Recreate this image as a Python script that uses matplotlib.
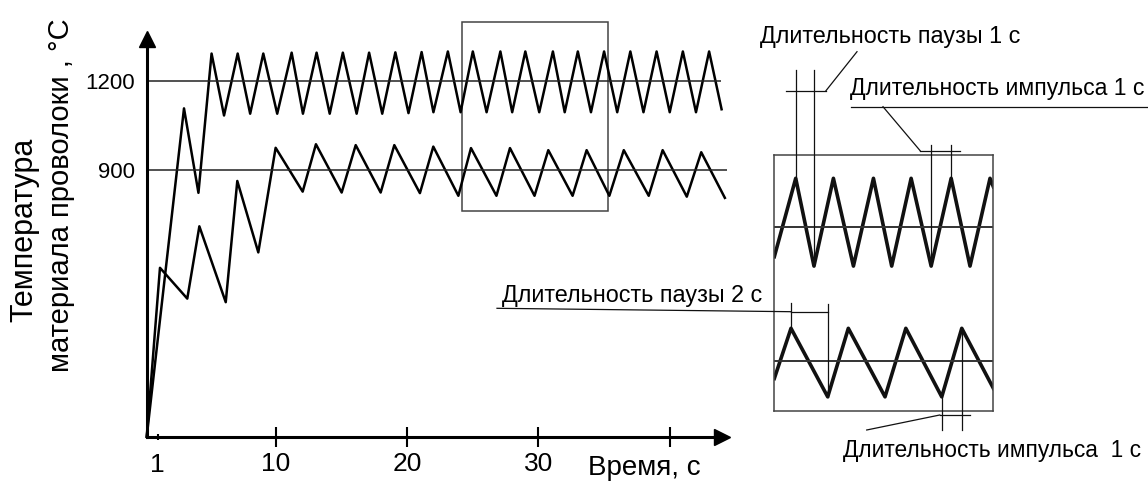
import matplotlib
matplotlib.use("Agg")
import matplotlib.pyplot as plt
from matplotlib.patches import Rectangle

plt.rcParams['font.family'] = ['Liberation Sans', 'DejaVu Sans']

# main chart: wire temperature vs time
upper_t = [0.16, 3.0, 4.1, 5.1, 6.05, 7.09, 8.04, 9.04, 10.1, 11.2, 12.06, 13.1, 14.1, 15.1,
           16.15, 17.1, 18.1, 19.1, 20.1, 21.1, 22.0, 23.1, 24.07, 25.0, 26.05, 27.1, 28.0,
           29.0, 30.06, 31.1, 32.0, 33.0, 34.0, 35.0, 36.0, 37.0, 38.0, 39.0, 40.0, 41.0,
           42.0, 43.0, 43.95]
upper_T = [0, 1108, 823, 1293, 1084, 1293, 1090, 1293, 1090, 1296, 1090, 1296, 1090, 1296,
           1090, 1296, 1090, 1297, 1092, 1298, 1095, 1300, 1095, 1300, 1095, 1300, 1095,
           1300, 1095, 1300, 1095, 1300, 1095, 1300, 1095, 1300, 1095, 1300, 1095, 1300,
           1095, 1300, 1105]

lower_t = [0.16, 1.17, 3.25, 4.17, 6.18, 7.06, 8.66, 9.98, 12.04, 13.05, 15.01, 16.08, 17.98,
           19.02, 20.97, 21.99, 23.9, 24.86, 26.8, 27.83, 29.7, 30.75, 32.6, 33.67, 35.4,
           36.5, 38.4, 39.46, 41.3, 42.4, 44.2]
lower_T = [0, 570, 466, 710, 454, 863, 622, 975, 827, 987, 824, 984, 824, 984, 822, 979,
           813, 974, 813, 974, 813, 967, 813, 967, 813, 967, 813, 967, 810, 960, 806]

ref_levels = [1200, 900]
ref_ends = [43.9, 44.4]
xtick_major = [10, 20, 30, 40]
xtick_major_labels = ['10', '20', '30', '']
xtick_minor = [1]

# zoomed fragment (box in the main chart)
box_t = [24.14, 35.3]
box_T = [762, 1398]
inset_up_t = [24.14, 25.23, 26.16, 27.15, 28.17, 29.19, 30.12, 31.11, 32.13, 33.15, 34.11, 35.13, 35.3]
inset_up_T = [1133, 1308, 1112, 1308, 1112, 1308, 1112, 1308, 1112, 1308, 1112, 1308, 1289]
inset_lo_t = [24.14, 24.99, 26.86, 27.91, 29.78, 30.84, 32.67, 33.69, 35.3]
inset_lo_T = [861, 973, 820, 973, 820, 973, 820, 973, 839]

W, H = 1148, 486
fig = plt.figure(figsize=(W / 100, H / 100), dpi=100)
ax = fig.add_axes([0.1278, 0.1014, 0.5011, 0.8183])

ax.plot(upper_t, upper_T, color='black', lw=1.8, clip_on=False)
ax.plot(lower_t, lower_T, color='black', lw=1.8, clip_on=False)
for lev, end in zip(ref_levels, ref_ends):
    ax.hlines(lev, 0.16, end, color='#222222', lw=1.1, clip_on=False)
ax.add_patch(Rectangle((box_t[0], box_T[0]), box_t[1] - box_t[0], box_T[1] - box_T[0],
                       fill=False, ec='#444444', lw=1.1, clip_on=False))

ax.set_xlim(0.16, 43.98)
ax.set_ylim(0, 1342)
for s in ['top', 'right']:
    ax.spines[s].set_visible(False)
for s in ['left', 'bottom']:
    ax.spines[s].set_linewidth(2.2)
ax.plot([0], [1], marker='^', ms=11, color='black', transform=ax.transAxes, clip_on=False)
ax.plot([1], [0], marker='>', ms=11, color='black', transform=ax.transAxes, clip_on=False)

ax.set_xticks(xtick_major, labels=xtick_major_labels)
ax.set_xticks(xtick_minor, labels=[str(v) for v in xtick_minor], minor=True)
ax.tick_params(axis='x', which='major', direction='inout', length=14, width=1.5,
               pad=4, labelsize=19)
ax.tick_params(axis='x', which='minor', direction='inout', length=5, width=1.5,
               pad=9, labelsize=19)
ax.set_yticks(ref_levels, labels=[str(v) for v in ref_levels])
ax.tick_params(axis='y', length=0, pad=8.5, labelsize=16)

# inset
ins = fig.add_axes([0.6745, 0.1549, 0.1908, 0.5261])
ins.plot(inset_up_t, inset_up_T, color='#111111', lw=2.6)
ins.plot(inset_lo_t, inset_lo_T, color='#111111', lw=2.6)
for lev in ref_levels:
    ins.axhline(lev, color='#333333', lw=1.4)
ins.set_xlim(box_t)
ins.set_ylim(789, 1360)
ins.set_xticks([])
ins.set_yticks([])
for s in ins.spines.values():
    s.set_linewidth(1.1)
    s.set_color('#444444')

# overlay in pixel units for labels and dimension lines
ann = fig.add_axes([0, 0, 1, 1], zorder=5)
ann.set_xlim(0, W)
ann.set_ylim(H, 0)
ann.set_axis_off()
ann.patch.set_alpha(0)


def to_px(a, x, y):
    return ann.transData.inverted().transform(a.transData.transform((x, y)))


thin = dict(color='#111111', lw=0.9)


def vline(x, y, y_end):
    p = to_px(ins, x, y)
    ann.plot([p[0], p[0]], [p[1], y_end], **thin)
    return p[0]


# pause 1 s
x1 = vline(inset_up_t[1], inset_up_T[1], 70)
x2 = vline(inset_up_t[2], inset_up_T[2], 70)
ann.plot([x1 - 10, x2 + 12], [90.7, 90.7], **thin)
ann.plot([x2 + 12, 857], [90.7, 51.7], **thin)
ann.text(760, 36.5, 'Длительность паузы 1 с', fontsize=16.8, va='center', ha='left')

# pulse 1 s (top)
x1 = vline(inset_up_t[8], inset_up_T[8], 145)
x2 = vline(inset_up_t[9], inset_up_T[9], 145)
ann.plot([x1 - 11, x2 + 9], [150.7, 150.7], **thin)
ann.plot([x1 - 11, 883], [150.7, 106.7], **thin)
ann.plot([851, W], [106.7, 106.7], **thin)
ann.text(850, 88, 'Длительность импульса 1 с', fontsize=16.6, va='center', ha='left')

# pause 2 s
x1 = vline(inset_lo_t[1], inset_lo_T[1], 303)
x2 = vline(inset_lo_t[2], inset_lo_T[2], 304)
ann.plot([497, x1], [308.3, 311.7], **thin)
ann.plot([x1, x2], [311.7, 311.7], **thin)
ann.text(501.7, 295, 'Длительность паузы 2 с', fontsize=16.8, va='center', ha='left')

# pulse 1 s (bottom)
x1 = vline(inset_lo_t[6], inset_lo_T[6], 430)
x2 = vline(inset_lo_t[7], inset_lo_T[7], 430)
ann.plot([x1 - 2, x2 + 8], [415, 415], **thin)
ann.plot([x1 - 2, 866.7], [415, 430], **thin)
ann.text(843, 450, 'Длительность импульса  1 с', fontsize=16.4, va='center', ha='left')

# axis titles
ann.text(588, 468, 'Время, с', fontsize=20, va='center', ha='left')
ann.text(24, 322, 'Температура', fontsize=22, rotation=90, ha='center', va='bottom')
ann.text(61, 18, 'материала проволоки , °С', fontsize=21, rotation=90, ha='center', va='top')

fig.savefig('out.png', dpi=100)
